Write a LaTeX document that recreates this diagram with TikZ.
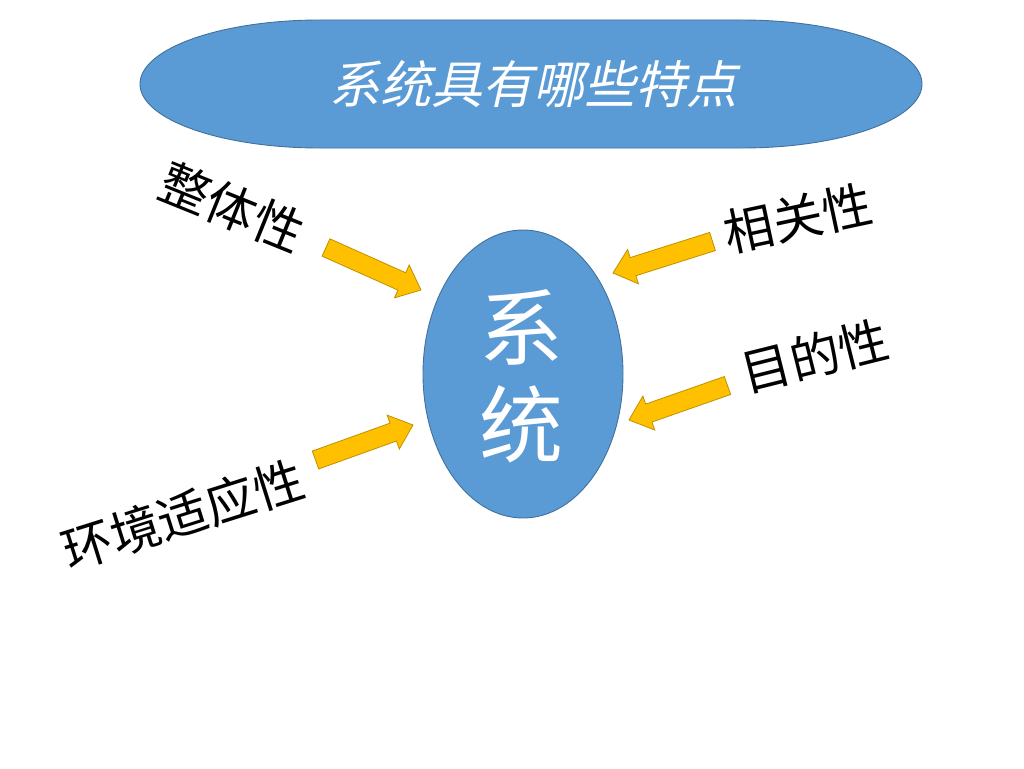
\documentclass[tikz,border=0pt]{standalone}
\usepackage{fontspec}
\newfontfamily\cjk{Noto Sans CJK SC}
\newfontfamily\cjkit[FakeSlant=0.22]{Noto Sans CJK SC}
\usetikzlibrary{shapes.geometric,calc}
\definecolor{blfill}{HTML}{5B9BD5}
\definecolor{blline}{HTML}{41719C}
\definecolor{gdfill}{HTML}{FFC000}
\definecolor{gdline}{HTML}{BF9000}
\tikzset{
  bluebody/.style={fill=blfill,draw=blline,line width=0.9pt},
  goldarrow/.style={fill=gdfill,draw=gdline,line width=0.8pt,line join=miter},
  lbl/.style={font=\cjk\fontsize{50}{60}\selectfont,text=black,inner sep=0pt},
}
\newcommand\blockarrow[3]{%
  \coordinate (#1-t) at #2;
  \coordinate (#1-p) at #3;
  \coordinate (#1-h) at ($(#1-p)!21pt!(#1-t)$);
  \draw[goldarrow] ($(#1-t)!9.5pt!90:(#1-p)$) -- ($(#1-h)!9.5pt!90:(#1-p)$)
    -- ($(#1-h)!18pt!90:(#1-p)$) -- (#1-p) -- ($(#1-h)!18pt!-90:(#1-p)$)
    -- ($(#1-h)!9.5pt!-90:(#1-p)$) -- ($(#1-t)!9.5pt!-90:(#1-p)$) -- cycle;
}
\begin{document}
\begin{tikzpicture}[x=1pt,y=1pt]
\useasboundingbox[fill=white] (0,0) rectangle (1024,-768);
% title banner
\draw[bluebody] (320,-20) -- (742,-20)
  arc[start angle=90,end angle=-90,x radius=180,y radius=64]
  -- (320,-148)
  arc[start angle=270,end angle=90,x radius=180,y radius=64] -- cycle;
\node[font=\cjkit\fontsize{51}{60}\selectfont,text=white,inner sep=0pt] (title) at (533,-84) {系统具有哪些特点};
% central ellipse
\node[ellipse,bluebody,minimum width=200pt,minimum height=288pt,inner sep=0pt] (sys) at (523,-374) {};
\node[font=\cjk\fontsize{84}{97}\selectfont,text=white,align=center,inner sep=0pt] (systxt) at (521,-376) {系\\统};
% labels
\node[lbl,rotate=-22] (zt) at (232,-207) {整体性};
\node[lbl,rotate=12] (xg) at (798,-218) {相关性};
\node[lbl,rotate=14] (md) at (815,-356) {目的性};
\node[lbl,rotate=17.5] (hj) at (183,-515) {环境适应性};
% arrows
\blockarrow{a1}{(326,-247.5)}{(421,-290)}
\blockarrow{a2}{(712.5,-241.5)}{(613,-273)}
\blockarrow{a3}{(315.5,-460)}{(413,-425)}
\blockarrow{a4}{(727.5,-385.5)}{(629,-420)}
\end{tikzpicture}
\end{document}
